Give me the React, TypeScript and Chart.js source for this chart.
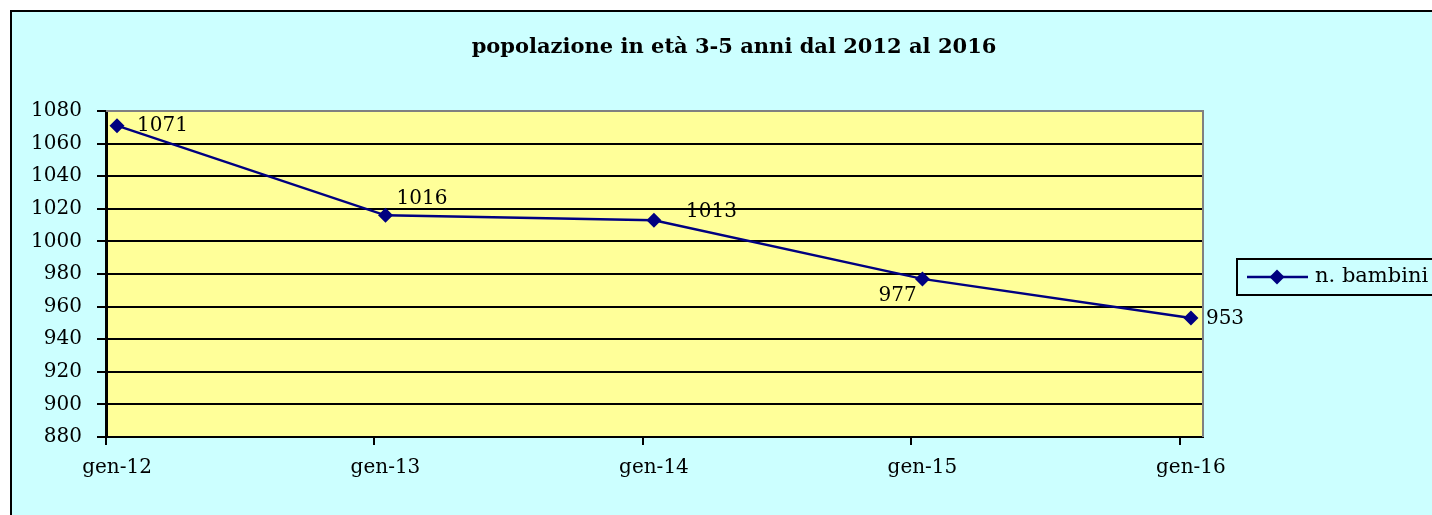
import React, { useEffect, useRef } from "react";
import { Chart, registerables } from "chart.js";

Chart.register(...registerables);

const categories = ["gen-12", "gen-13", "gen-14", "gen-15", "gen-16"];
const bambini = [1071, 1016, 1013, 977, 953];
const yTicks = [880, 900, 920, 940, 960, 980, 1000, 1020, 1040, 1060, 1080];
const seriesName = "n. bambini";
const titleText = "popolazione in età 3-5 anni dal 2012 al 2016";
// label offsets (style): dx, dy from point
const labelOffsets = [
  [20, 0],
  [11, -17],
  [32, -8],
  [-44, 17],
  [15, 1],
];

const FONT = "'DejaVu Serif', serif";
const NAVY = "#000080";

export default function App() {
  const ref = useRef<HTMLCanvasElement | null>(null);

  useEffect(() => {
    const canvas = ref.current!;
    const drawPlugin = {
      id: "excelLook",
      beforeDraw(chart: any) {
        const { ctx, chartArea } = chart;
        ctx.save();
        ctx.fillStyle = "#FFFF99";
        ctx.fillRect(chartArea.left, chartArea.top, chartArea.right - chartArea.left, chartArea.bottom - chartArea.top);
        ctx.restore();
      },
      beforeDatasetsDraw(chart: any) {
        const { ctx, chartArea } = chart;
        const xs = chart.scales.x;
        ctx.save();
        ctx.strokeStyle = "#808080";
        ctx.lineWidth = 2;
        ctx.beginPath();
        ctx.moveTo(chartArea.left, chartArea.top);
        ctx.lineTo(chartArea.right, chartArea.top);
        ctx.lineTo(chartArea.right, chartArea.bottom);
        ctx.stroke();
        const shift = xs.getPixelForValue(0) - xs.left;
        ctx.strokeStyle = "#000";
        ctx.lineWidth = 2;
        categories.forEach((_, i) => {
          const tx = Math.round(xs.getPixelForValue(i) - shift);
          ctx.beginPath();
          ctx.moveTo(tx, chartArea.bottom);
          ctx.lineTo(tx, chartArea.bottom + 8);
          ctx.stroke();
        });
        ctx.restore();
      },
      afterDraw(chart: any) {
        const { ctx } = chart;
        const meta = chart.getDatasetMeta(0);
        ctx.save();
        ctx.fillStyle = "#000";
        ctx.font = `bold 21px ${FONT}`;
        ctx.textAlign = "center";
        ctx.textBaseline = "middle";
        ctx.fillText(titleText, 722, 36);
        ctx.font = `20px ${FONT}`;
        ctx.textAlign = "left";
        meta.data.forEach((pt: any, i: number) => {
          const [dx, dy] = labelOffsets[i];
          ctx.fillText(String(bambini[i]), pt.x + dx, pt.y + dy);
        });
        const lx = 1225, ly = 247, lh = 36;
        ctx.strokeStyle = "#000";
        ctx.lineWidth = 2;
        ctx.strokeRect(lx, ly, 300, lh);
        const cy = ly + lh / 2;
        ctx.strokeStyle = NAVY;
        ctx.lineWidth = 2.5;
        ctx.beginPath();
        ctx.moveTo(lx + 10, cy);
        ctx.lineTo(lx + 71, cy);
        ctx.stroke();
        ctx.fillStyle = NAVY;
        ctx.beginPath();
        const mx = lx + 40;
        ctx.moveTo(mx - 7.5, cy);
        ctx.lineTo(mx, cy - 7.5);
        ctx.lineTo(mx + 7.5, cy);
        ctx.lineTo(mx, cy + 7.5);
        ctx.closePath();
        ctx.fill();
        ctx.fillStyle = "#000";
        ctx.font = `21px ${FONT}`;
        ctx.textBaseline = "middle";
        ctx.fillText(seriesName, lx + 78, cy);
        ctx.restore();
      },
    };

    const chart = new Chart(canvas, {
      type: "line",
      data: {
        datasets: [
          {
            label: seriesName,
            data: bambini.map((v, i) => ({ x: i, y: v })),
            borderColor: NAVY,
            backgroundColor: NAVY,
            borderWidth: 2.5,
            pointStyle: "rectRot",
            pointRadius: 7.5,
            pointBackgroundColor: NAVY,
            pointBorderColor: NAVY,
            pointBorderWidth: 0,
            tension: 0,
          },
        ],
      },
      options: {
        animation: false,
        responsive: false,
        maintainAspectRatio: false,
        layout: { padding: { top: 99, right: 229, bottom: 0, left: 0 } },
        plugins: {
          legend: { display: false },
          title: { display: false },
          tooltip: { enabled: false },
        },
        scales: {
          x: {
            type: "linear",
            min: -0.041,
            max: 4.045,
            afterBuildTicks: (scale: any) => {
              scale.ticks = categories.map((_, i) => ({ value: i }));
            },
            afterFit: (scale: any) => {
              scale.height = 78;
            },
            grid: { display: true, drawOnChartArea: false, drawTicks: false, color: "rgba(0,0,0,0)" },
            border: { display: true, color: "#000", width: 2 },
            ticks: {
              padding: 19,
              color: "#000",
              font: { family: FONT, size: 20 },
              maxRotation: 0,
              autoSkip: false,
              callback: (v: any) => categories[v] ?? "",
            },
          },
          y: {
            min: yTicks[0],
            max: yTicks[yTicks.length - 1],
            afterBuildTicks: (scale: any) => {
              scale.ticks = yTicks.map((v) => ({ value: v }));
            },
            afterFit: (scale: any) => {
              scale.width = 94;
            },
            grid: { color: "#000", lineWidth: 2, tickLength: 9, drawTicks: true },
            border: { display: true, color: "#000", width: 3 },
            ticks: {
              padding: 15,
              color: "#000",
              font: { family: FONT, size: 20 },
              callback: (v: any) => String(v),
            },
          },
        },
      },
      plugins: [drawPlugin],
    } as any);
    return () => chart.destroy();
  }, []);

  return (
    <div style={{ position: "fixed", inset: 0, background: "#fff", overflow: "hidden" }}>
      <div
        style={{
          position: "absolute",
          left: 10,
          top: 10,
          width: 1500,
          height: 600,
          background: "#CCFFFF",
          borderTop: "2px solid #000",
          borderLeft: "2px solid #000",
        }}
      >
        <canvas ref={ref} width={1420} height={503} style={{ display: "block" }} />
      </div>
    </div>
  );
}
